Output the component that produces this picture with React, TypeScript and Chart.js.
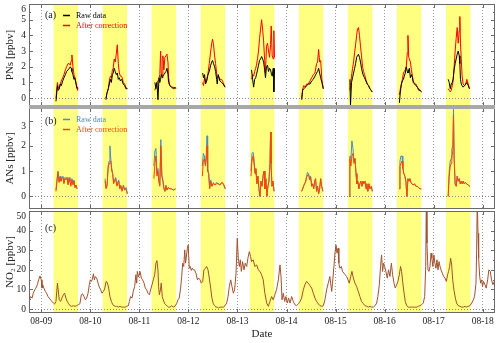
import React, { useEffect, useRef } from 'react';
import { Chart, registerables } from 'chart.js';
Chart.register(...registerables);

const W = 500;
const H = 343;
const X_MIN = -6; // hours relative to 08-09 00:00
const X_MAX = 222;
const FONT = "'Liberation Serif', 'Times New Roman', serif";
const FRAME = '#6a6a6a';

const dayLabels = ['08-09', '08-10', '08-11', '08-12', '08-13', '08-14', '08-15', '08-16', '08-17', '08-18'];
const dayTickHours = [0, 24, 48, 72, 96, 120, 144, 168, 192, 216];
const daytimeDays = [0, 1, 2, 3, 4, 5, 6, 7, 8];
const daytimeStart = 6;
const daytimeEnd = 18;

// PNs: rows [hour of day, raw, after correction], one list per day (08-09 ... 08-17)
const pnDays: number[][][] = [
  [[7.2,-0.2,0.0],[7.9,0.8,1.0],[8.3,0.5,0.7],[8.8,0.6,0.6],[9.3,0.9,0.9],[9.8,0.8,1.1],[10.5,1.1,1.3],[11.1,1.3,1.5],[11.8,1.5,1.8],[12.4,1.7,2.0],[13.1,1.8,2.2],[13.7,1.9,2.2],[14.2,2.0,2.1],[14.7,1.9,2.4],[15.0,1.7,2.75],[15.5,1.5,2.0],[16.0,1.2,1.5],[16.5,1.3,1.2],[17.0,0.9,1.0],[17.5,0.6,0.7],[17.8,0.6,0.5]],
  [[7.65,-0.1,0.0],[8.1,0.3,0.3],[8.8,0.6,0.6],[9.3,0.9,1.1],[9.8,1.2,1.4],[10.3,1.0,1.3],[10.8,1.5,1.8],[11.2,1.6,1.9],[11.7,1.9,2.5],[12.2,1.7,2.3],[12.7,1.5,2.8],[13.2,1.6,3.4],[13.7,1.2,2.2],[14.2,1.3,1.6],[14.7,1.1,1.4],[15.2,1.2,1.4],[15.6,1.1,1.3],[16.1,0.9,1.0],[16.8,0.8,0.9],[17.4,0.6,0.7],[18.1,0.6,0.6]],
  [[7.6,1.0,0.5],[8.1,0.6,0.8],[8.6,1.0,1.0],[9.1,-0.1,1.1],[9.6,1.3,1.2],[10.0,1.0,1.5],[10.4,1.2,3.0],[10.7,1.5,1.6],[11.2,1.3,1.4],[11.5,1.4,2.7],[12.0,1.5,1.8],[12.5,1.6,2.6],[13.0,1.7,2.7],[13.5,1.9,2.8],[14.0,1.5,2.3],[14.3,1.0,1.3],[14.9,0.8,0.8],[15.8,0.7,0.7],[16.6,0.6,0.7],[17.2,0.7,0.6],[17.9,0.6,0.7]],
  [[6.95,1.6,1.0],[7.4,1.3,0.8],[7.9,1.5,1.3],[8.4,0.9,1.0],[8.9,1.1,1.1],[9.6,1.5,1.6],[10.2,1.7,2.2],[10.9,2.1,3.0],[11.4,2.3,3.5],[11.8,2.4,3.75],[12.3,2.2,3.4],[12.8,2.0,2.7],[13.3,1.7,2.2],[13.8,1.2,1.6],[14.1,0.9,1.3],[14.6,1.5,1.4],[15.4,1.1,1.2],[16.2,1.0,1.2],[17.0,0.9,1.0],[17.9,0.7,0.7]],
  [[6.9,1.8,1.2],[7.4,1.2,1.5],[7.9,0.7,1.4],[8.4,1.2,1.7],[8.9,1.3,1.9],[9.3,1.5,2.1],[9.8,1.8,2.5],[10.3,2.1,3.0],[10.8,2.4,3.8],[11.3,2.5,4.4],[11.8,2.65,5.0],[12.3,2.5,4.4],[12.8,2.3,3.6],[13.3,1.8,2.4],[13.7,1.3,1.6],[14.2,2.0,3.3],[14.7,2.1,3.5],[15.2,1.7,3.0],[15.7,1.9,2.6],[16.2,1.8,3.4],[16.5,1.6,4.6],[17.0,1.4,2.7],[17.5,1.9,2.5],[17.8,0.4,4.3],[18.1,1.9,2.6]],
  [[7.4,-0.1,0.0],[7.9,0.5,0.6],[8.5,0.6,0.8],[9.2,0.7,0.7],[9.8,0.8,0.9],[10.7,0.9,0.9],[11.5,0.9,1.1],[12.3,1.1,1.3],[13.1,1.2,1.5],[13.9,1.4,1.6],[14.7,1.6,2.2],[15.2,1.7,2.3],[15.7,1.9,3.1],[16.2,1.6,2.3],[16.7,1.3,2.4],[17.3,1.0,1.2],[18.0,0.6,0.6]],
  [[7.0,1.2,0.5],[7.3,-0.45,0.8],[7.8,1.0,1.4],[8.3,1.3,1.9],[8.8,1.6,2.3],[9.3,1.9,2.9],[9.8,2.2,3.4],[10.3,2.6,4.0],[10.7,2.7,4.4],[11.2,2.8,4.5],[11.7,2.6,4.0],[12.2,2.3,3.3],[12.7,1.9,2.7],[13.2,1.6,2.0],[13.7,1.4,1.7],[14.2,1.3,1.5],[14.8,1.1,1.2],[15.5,0.9,0.9],[16.1,0.8,0.8],[16.8,0.6,0.6],[17.4,0.5,0.5],[17.9,0.4,0.4]],
  [[7.2,-0.3,0.2],[7.7,0.4,0.6],[8.2,0.9,0.9],[8.7,1.1,1.2],[9.2,1.2,1.6],[9.6,1.4,1.7],[10.1,1.6,1.8],[10.6,2.0,2.0],[11.1,1.7,2.9],[11.4,1.6,4.0],[11.8,1.8,2.6],[12.1,1.9,2.5],[12.6,1.3,2.3],[13.1,1.5,1.8],[13.6,1.3,1.4],[14.0,1.0,1.1],[14.7,0.9,0.9],[15.3,0.8,0.9],[16.0,0.7,0.7],[16.7,0.5,0.6],[17.3,0.5,0.5],[18.1,0.4,0.4]],
  [[7.1,1.2,0.6],[7.6,1.0,0.5],[8.1,0.6,0.4],[8.6,0.9,0.5],[9.1,1.0,0.8],[9.5,1.2,1.1],[10.0,1.8,2.0],[10.5,2.2,3.0],[11.0,2.5,3.8],[11.5,2.8,4.5],[12.0,3.0,3.5],[12.5,2.7,4.3],[12.8,2.2,5.2],[13.1,1.2,3.5],[13.5,0.9,2.5],[13.9,0.8,1.4],[14.4,0.7,0.9],[15.1,0.8,0.8],[15.7,0.9,0.9],[16.2,1.0,1.2],[16.9,0.8,0.9],[17.5,0.6,0.6]],
];

// ANs: rows [hour of day, raw, after correction]
const anDays: number[][][] = [
  [[7.2,0.25,0.2],[7.7,0.7,0.6],[8.2,1.0,0.95],[8.7,0.6,0.55],[9.2,0.8,0.75],[9.6,0.65,0.6],[10.1,0.75,0.7],[10.6,0.8,0.75],[11.1,0.55,0.5],[11.6,0.75,0.7],[12.1,0.7,0.65],[12.6,0.75,0.75],[13.1,0.5,0.45],[13.6,0.75,0.7],[14.0,0.6,0.6],[14.5,0.45,0.4],[15.0,0.7,0.65],[15.5,0.5,0.45],[16.0,0.65,0.6],[16.5,0.35,0.35],[17.0,0.45,0.45],[17.5,0.3,0.3]],
  [[7.2,0.7,0.6],[7.7,0.35,0.3],[8.2,0.45,0.4],[8.7,1.2,1.1],[9.2,1.4,1.3],[9.6,2.0,1.35],[10.0,1.5,1.4],[10.5,1.1,1.0],[10.9,0.95,0.9],[11.4,0.55,0.5],[11.9,0.65,0.6],[12.4,0.75,0.7],[13.0,0.45,0.4],[13.4,0.55,0.5],[13.9,0.65,0.6],[14.4,0.3,0.3],[14.9,0.45,0.4],[15.5,0.25,0.2],[16.2,0.45,0.4],[16.8,0.25,0.25],[17.5,0.35,0.3],[18.1,0.1,0.1]],
  [[7.1,1.2,0.7],[7.6,1.8,1.3],[8.1,1.9,1.6],[8.6,0.9,0.8],[9.1,1.1,1.0],[9.5,0.65,0.6],[10.0,0.45,0.4],[10.5,2.25,2.0],[11.0,0.85,0.8],[11.5,0.65,0.6],[12.0,0.35,0.3],[12.5,0.2,0.2],[13.0,0.45,0.4],[13.5,0.25,0.25],[14.1,0.35,0.35],[14.9,0.3,0.3],[15.7,0.3,0.3],[16.6,0.25,0.25],[17.7,0.3,0.3]],
  [[6.8,1.2,0.8],[7.3,1.7,1.4],[7.8,1.6,1.5],[8.3,1.3,1.2],[8.8,1.7,1.5],[9.1,2.4,2.0],[9.4,1.1,1.0],[9.9,0.9,0.9],[10.4,0.35,0.3],[10.9,0.65,0.6],[11.5,0.4,0.4],[12.2,0.55,0.5],[13.0,0.45,0.45],[13.8,0.55,0.5],[14.6,0.5,0.5],[15.4,0.45,0.45],[16.3,0.55,0.55],[17.1,0.5,0.5],[18.0,0.3,0.3]],
  [[6.6,1.0,0.8],[7.1,1.7,1.4],[7.6,1.75,1.6],[8.1,1.5,1.3],[8.6,0.9,0.9],[9.0,1.1,1.1],[9.5,0.5,0.5],[10.0,0.8,0.8],[10.5,0.3,0.3],[11.0,0.0,0.0],[11.5,0.6,0.6],[12.0,0.4,0.4],[12.5,0.8,0.8],[13.0,1.0,1.0],[13.4,0.3,0.3],[13.9,0.7,0.7],[14.4,0.0,0.0],[14.9,0.4,0.4],[15.4,0.6,0.6],[15.9,1.3,1.3],[16.2,2.55,2.55],[16.4,1.3,1.3],[16.9,0.4,0.4],[17.4,0.6,0.6],[17.9,0.2,0.2]],
  [[7.4,0.2,0.2],[7.9,0.3,0.3],[8.4,0.45,0.4],[8.9,0.5,0.5],[9.4,0.6,0.6],[9.8,0.8,0.75],[10.3,0.95,0.85],[10.8,0.9,0.85],[11.3,0.7,0.65],[11.8,0.8,0.75],[12.3,0.4,0.4],[12.8,0.5,0.5],[13.3,0.3,0.3],[13.8,0.6,0.6],[14.2,0.7,0.7],[14.7,0.2,0.2],[15.2,0.4,0.4],[15.7,0.1,0.1],[16.2,0.3,0.3],[16.7,0.7,0.7],[17.2,0.4,0.4],[17.8,0.2,0.2]],
  [[6.7,0.0,0.0],[7.0,1.6,1.5],[7.5,1.5,1.2],[8.0,2.2,1.6],[8.5,1.9,1.7],[9.0,1.4,1.3],[9.5,1.5,1.5],[10.0,0.9,0.9],[10.4,0.5,0.5],[10.9,0.6,0.6],[11.4,0.3,0.3],[11.9,0.5,0.5],[12.4,0.6,0.6],[12.9,0.4,0.4],[13.4,0.6,0.6],[13.9,0.5,0.5],[14.4,0.6,0.6],[14.9,0.3,0.3],[15.3,0.5,0.5],[15.8,0.2,0.2],[16.3,0.5,0.5],[16.8,0.3,0.3],[17.5,0.4,0.4],[18.0,0.2,0.2]],
  [[7.15,0.3,0.3],[7.5,1.4,1.2],[8.0,1.6,1.3],[8.5,1.6,1.4],[8.9,1.2,1.1],[9.4,0.9,0.9],[9.9,0.8,0.8],[10.4,0.6,0.6],[10.9,0.0,0.0],[11.4,0.7,0.7],[11.9,0.6,0.6],[12.4,0.7,0.7],[12.9,0.55,0.55],[13.3,0.5,0.5],[14.0,0.45,0.45],[14.6,0.5,0.5],[15.3,0.4,0.4],[15.9,0.4,0.4],[16.6,0.35,0.35],[17.3,0.3,0.3],[17.9,0.3,0.3]],
  [[7.1,0.0,0.0],[7.6,1.0,0.8],[8.1,1.4,1.2],[8.6,1.5,1.3],[8.9,1.9,1.6],[9.4,2.0,1.8],[9.7,3.45,3.2],[10.0,1.6,1.5],[10.5,0.5,0.5],[11.0,0.4,0.4],[11.5,0.8,0.8],[12.0,0.6,0.6],[12.5,0.7,0.7],[13.0,0.5,0.5],[13.5,0.6,0.6],[13.9,0.5,0.5],[14.4,0.6,0.6],[14.9,0.5,0.5],[15.4,0.55,0.55],[16.1,0.5,0.5],[16.9,0.45,0.45],[17.7,0.4,0.4]],
];

// NO2: rows [hours since 08-09 00:00, ppbv]
const no2Readings: number[][] = [
  [-5.85,4.7],[-5.2,6.4],[-4.5,5.6],[-3.9,8.1],[-3.2,9.8],[-2.6,10.7],[-1.9,12.4],[-1.3,14.9],[-0.6,16.9],[0.0,14.9],[0.35,10.7],[0.7,12.4],[1.3,10.7],[2.0,9.0],[2.6,8.1],[3.3,6.4],[3.9,5.6],[4.6,4.7],[5.2,3.9],[5.9,3.1],[6.5,2.5],[7.2,3.9],[7.9,13.2],[8.3,9.8],[8.8,4.7],[9.5,3.9],[10.1,5.6],[10.8,7.3],[11.4,8.1],[12.1,5.6],[12.7,3.9],[13.4,2.7],[14.1,1.7],[14.9,1.4],[15.7,1.7],[16.5,1.4],[17.3,1.7],[18.1,2.2],[18.9,2.7],[19.6,7.3],[20.2,7.8],[20.9,6.4],[21.6,4.7],[22.2,5.6],[22.9,8.1],[23.5,12.4],
  [24.0,14.9],[24.5,14.1],[25.0,15.3],[25.5,18.0],[26.0,14.9],[26.4,16.6],[27.1,15.8],[27.8,13.2],[28.4,11.2],[29.1,9.8],[29.7,8.1],[30.4,9.0],[31.0,10.2],[31.7,14.1],[32.3,13.6],[33.0,10.7],[33.6,6.4],[34.3,3.9],[35.0,2.2],[35.6,1.7],[36.2,1.4],[36.9,1.4],[37.7,1.0],[38.5,1.4],[39.3,1.0],[40.1,1.0],[41.0,1.0],[41.8,1.4],[42.6,1.7],[43.1,3.9],[43.7,6.4],[44.4,5.6],[45.0,9.0],[45.7,11.5],[46.3,17.5],[46.7,13.2],[47.0,19.2],[47.6,16.3],
  [48.3,19.2],[49.0,15.8],[49.6,14.9],[50.3,13.2],[50.9,10.7],[51.6,9.8],[52.2,8.1],[52.9,7.3],[53.5,9.8],[54.2,12.4],[54.8,14.9],[55.5,17.5],[56.1,23.4],[56.6,24.7],[57.1,20.0],[57.4,11.5],[57.8,7.3],[58.3,9.8],[58.7,13.2],[59.2,6.4],[59.7,4.7],[60.4,2.7],[61.0,2.2],[61.7,1.4],[62.3,1.0],[63.0,1.0],[63.8,1.7],[64.6,1.0],[65.4,1.4],[66.2,2.7],[66.9,4.7],[67.5,5.6],[68.2,10.7],[68.7,16.6],[69.2,23.4],[69.7,21.7],[70.2,30.2],[70.6,23.4],[71.5,31.0],[71.9,32.7],
  [72.4,20.8],[72.9,21.7],[73.4,19.7],[73.9,20.8],[74.4,20.0],[75.0,20.0],[75.7,18.3],[76.4,14.9],[77.0,15.8],[77.7,14.9],[78.3,13.2],[79.0,14.1],[79.6,20.0],[80.3,20.8],[80.9,21.7],[81.6,20.0],[82.2,15.8],[82.9,10.7],[83.5,5.6],[84.2,2.7],[84.8,1.7],[85.5,1.0],[86.1,1.0],[86.8,0.5],[87.4,1.0],[88.3,1.0],[89.1,1.0],[89.9,1.7],[90.7,3.1],[91.4,6.4],[92.0,11.5],[92.7,14.9],[93.3,11.5],[94.0,8.1],[94.6,9.8],[95.3,18.3],[95.9,36.1],
  [96.4,25.9],[96.9,21.7],[97.4,25.1],[97.9,19.2],[98.5,24.2],[99.2,20.0],[99.8,23.4],[100.5,21.7],[101.1,25.9],[101.8,29.3],[102.4,26.8],[102.9,24.2],[103.7,25.1],[104.5,21.7],[105.4,22.5],[106.2,20.0],[107.0,19.2],[107.8,17.5],[108.6,14.9],[109.4,8.1],[110.3,3.1],[111.1,1.4],[111.9,3.9],[112.7,6.4],[113.5,4.7],[114.3,7.3],[115.1,9.8],[116.0,14.9],[116.8,22.5],[117.3,16.6],[117.8,4.7],[118.4,8.1],[119.1,3.9],[119.7,6.4],
  [120.4,3.1],[121.0,5.6],[121.7,3.1],[122.5,6.4],[123.3,3.9],[124.1,2.2],[124.9,1.7],[125.8,2.7],[126.6,3.9],[127.4,5.6],[128.2,9.8],[129.0,12.4],[129.8,14.1],[130.6,13.2],[131.5,11.9],[132.3,10.7],[133.1,8.1],[133.9,5.6],[134.7,3.9],[135.5,2.7],[136.4,1.7],[137.2,1.4],[138.0,1.7],[138.8,4.7],[139.6,9.8],[140.4,13.2],[141.2,16.6],[142.1,9.0],[142.5,13.2],[143.2,21.7],[143.7,28.5],
  [144.2,32.7],[144.7,28.5],[145.2,31.0],[145.6,23.4],[146.1,20.8],[146.8,21.7],[147.4,19.2],[148.1,18.3],[148.7,17.5],[149.4,16.6],[150.1,14.9],[150.7,13.2],[151.4,16.6],[152.0,19.2],[152.7,15.8],[153.5,13.2],[154.3,11.5],[155.1,9.0],[155.9,6.4],[156.7,3.9],[157.6,2.7],[158.4,1.7],[159.2,1.4],[160.0,1.0],[160.8,1.4],[161.6,1.0],[162.5,1.0],[163.3,1.7],[164.1,3.1],[164.7,6.4],[165.4,12.4],[166.0,21.7],[166.5,27.6],[167.0,19.2],[167.5,23.4],
  [168.0,21.7],[168.6,19.2],[169.3,15.8],[169.9,20.0],[170.6,16.6],[171.3,23.4],[171.9,17.5],[172.6,13.2],[173.2,10.7],[173.9,12.4],[174.5,14.1],[175.2,17.5],[175.8,21.7],[176.3,19.2],[176.8,14.1],[177.5,8.1],[178.1,3.9],[178.8,1.7],[179.6,1.0],[180.4,1.0],[181.2,1.0],[182.0,1.0],[182.8,1.0],[183.7,1.0],[184.5,1.4],[185.3,1.7],[186.1,2.2],[186.9,3.1],[187.6,6.4],[188.1,21.7],[188.4,55.0],[188.7,33.6],[189.2,20.0],[189.7,19.2],[190.2,21.7],[190.7,28.5],[191.1,25.9],[191.6,21.7],
  [192.1,27.6],[192.6,23.4],[193.1,20.8],[193.6,25.1],[194.1,20.0],[194.6,24.2],[195.1,21.7],[195.6,20.0],[196.2,18.3],[196.9,16.6],[197.5,15.8],[198.2,14.1],[198.8,17.5],[199.3,19.2],[199.8,21.7],[200.3,25.9],[200.8,22.5],[201.3,14.9],[201.9,9.8],[202.6,5.6],[203.2,3.1],[204.0,1.7],[204.9,1.4],[205.7,1.0],[206.5,1.0],[207.3,1.4],[208.1,1.0],[208.9,1.4],[209.7,1.7],[210.6,3.1],[211.4,4.7],[212.0,6.4],[212.7,13.2],[213.0,28.5],[213.3,55.0],[213.7,38.6],[214.0,25.9],[214.5,16.6],[215.0,13.2],[215.5,14.9],
  [215.9,11.5],[216.4,14.1],[217.1,12.4],[217.7,10.7],[218.4,14.9],[219.0,20.0],[219.7,19.2],[220.3,14.9],[221.0,12.4],[222.0,14.9],
];

const pnTicks = [0, 1, 2, 3, 4, 5, 6];
const anTicks = [0, 1, 2, 3];
const no2Ticks = [0, 10, 20, 30, 40, 50];

function daySeries(days: number[][][], col: number) {
  const out: { x: number; y: number | null }[] = [];
  days.forEach((rows, d) => {
    rows.forEach((r) => out.push({ x: d * 24 + r[0], y: r[col] }));
    out.push({ x: d * 24 + 21, y: null });
  });
  return out;
}

type Spec = {
  top: number;
  bottom: number;
  yMin: number;
  yMax: number;
  yTicks: number[];
  yMinor: number;
  title: string;
  showX: boolean;
  datasets: any[];
  tag: string;
  tagDy: number;
  legend: { text: string; color: string; dy: number }[];
  separatorAbove: boolean;
};

function makeChart(canvas: HTMLCanvasElement, spec: Spec) {
  const top = spec.yTicks[spec.yTicks.length - 1];
  const decor = {
    id: 'decor',
    beforeDraw(chart: any) {
      const { ctx, chartArea: a, scales } = chart;
      const xs = scales.x;
      ctx.save();
      ctx.fillStyle = '#ffff80';
      for (const d of daytimeDays) {
        const x1 = xs.getPixelForValue(d * 24 + daytimeStart);
        const x2 = xs.getPixelForValue(d * 24 + daytimeEnd);
        ctx.fillRect(x1, a.top, x2 - x1, a.bottom - a.top);
      }
      ctx.restore();
    },
    afterDraw(chart: any) {
      const { ctx, chartArea: a, scales } = chart;
      const xs = scales.x;
      const ys = scales.y;
      ctx.save();
      ctx.strokeStyle = FRAME;
      ctx.lineWidth = 1;
      ctx.beginPath();
      for (const v of spec.yTicks) {
        const y = Math.round(ys.getPixelForValue(v)) + 0.5;
        ctx.moveTo(a.left, y); ctx.lineTo(a.left + 4, y);
        ctx.moveTo(a.right, y); ctx.lineTo(a.right - 4, y);
      }
      for (let v = spec.yMinor; v < spec.yMax; v += spec.yMinor * 2) {
        const y = Math.round(ys.getPixelForValue(v)) + 0.5;
        ctx.moveTo(a.left, y); ctx.lineTo(a.left + 2, y);
        ctx.moveTo(a.right, y); ctx.lineTo(a.right - 2, y);
      }
      for (const h of dayTickHours) {
        const x = Math.round(xs.getPixelForValue(h)) + 0.5;
        ctx.moveTo(x, a.top); ctx.lineTo(x, a.top + 4);
        ctx.moveTo(x, a.bottom); ctx.lineTo(x, a.bottom - 4);
      }
      ctx.stroke();
      ctx.strokeRect(a.left + 0.5, a.top + 0.5, a.right - a.left - 1, a.bottom - a.top - 1);
      if (spec.separatorAbove) {
        ctx.fillStyle = '#a8a8a8';
        ctx.fillRect(a.left, a.top - 3, a.right - a.left, 4);
      }
      ctx.textAlign = 'left';
      ctx.textBaseline = 'middle';
      ctx.fillStyle = '#222';
      ctx.font = `10px ${FONT}`;
      ctx.fillText(spec.tag, 45, a.top + spec.tagDy);
      for (const item of spec.legend) {
        const y = Math.round(a.top + item.dy) + 0.5;
        ctx.strokeStyle = item.color;
        ctx.lineWidth = 1.5;
        ctx.beginPath();
        ctx.moveTo(63, y); ctx.lineTo(70, y);
        ctx.stroke();
        ctx.fillStyle = item.color;
        ctx.font = `8px ${FONT}`;
        ctx.fillText(item.text, 76, y);
      }
      ctx.restore();
    },
  };

  return new Chart(canvas, {
    type: 'line',
    data: { datasets: spec.datasets },
    options: {
      responsive: false,
      animation: false,
      devicePixelRatio: 1,
      events: [],
      layout: {
        padding: { left: 0, right: W - 495, top: spec.top, bottom: spec.showX ? 0 : H - spec.bottom },
      },
      plugins: { legend: { display: false }, tooltip: { enabled: false } },
      elements: { point: { radius: 0 }, line: { tension: 0 } },
      scales: {
        x: {
          type: 'linear',
          min: X_MIN,
          max: X_MAX,
          afterBuildTicks: (s: any) => { s.ticks = dayTickHours.map((v) => ({ value: v })); },
          afterFit: (s: any) => {
            s.height = spec.showX ? H - spec.bottom : 0;
            s.paddingLeft = 0; s.paddingRight = 0;
          },
          grid: { color: '#9a9a9a', lineWidth: 1, drawTicks: false },
          border: { display: false, dash: [1, 2] },
          ticks: {
            display: spec.showX,
            autoSkip: false,
            maxRotation: 0,
            padding: 3,
            color: '#222',
            font: { family: FONT, size: 9.5 },
            callback: (v: any) => dayLabels[Math.round(Number(v) / 24)] ?? '',
          },
          title: {
            display: spec.showX,
            text: 'Date',
            color: '#222',
            font: { family: FONT, size: 11 },
            padding: { top: 0, bottom: 2 },
          },
        },
        y: {
          type: 'linear',
          min: spec.yMin,
          max: spec.yMax,
          afterBuildTicks: (s: any) => { s.ticks = spec.yTicks.map((v) => ({ value: v })); },
          afterFit: (s: any) => { s.width = 29; s.paddingTop = 0; s.paddingBottom = 0; },
          grid: {
            drawTicks: false,
            lineWidth: 1,
            color: (c: any) => (c.tick && c.tick.value === 0 ? '#8a8a8a' : 'rgba(0,0,0,0)'),
          },
          border: { display: false, dash: [1, 2] },
          ticks: {
            autoSkip: false,
            padding: 3,
            color: '#222',
            font: { family: FONT, size: 9.5 },
            callback: (v: any) => (Number(v) === top ? ['', String(v)] : String(v)),
          },
          title: {
            display: true,
            text: spec.title,
            color: '#222',
            font: { family: FONT, size: 11 },
            padding: { top: 4, bottom: 0 },
          },
        },
      },
    },
    plugins: [decor],
  } as any);
}

const lineDs = (label: string, data: any[], color: string, width = 1) => ({
  label,
  data,
  borderColor: color,
  backgroundColor: color,
  borderWidth: width,
  pointRadius: 0,
  fill: false,
  spanGaps: false,
});

export default function App() {
  const refA = useRef<HTMLCanvasElement>(null);
  const refB = useRef<HTMLCanvasElement>(null);
  const refC = useRef<HTMLCanvasElement>(null);

  useEffect(() => {
    const charts: Chart[] = [];
    if (refA.current) {
      charts.push(makeChart(refA.current, {
        top: 4, bottom: 106, yMin: -0.5, yMax: 6, yTicks: pnTicks, yMinor: 0.5,
        title: 'PNs [ppbv]', showX: false, separatorAbove: false,
        tag: '(a)', tagDy: 11,
        legend: [
          { text: 'Raw data', color: '#000000', dy: 11 },
          { text: 'After correction', color: '#ff0000', dy: 20.5 },
        ],
        datasets: [
          lineDs('Raw data', daySeries(pnDays, 1), '#000000'),
          lineDs('After correction', daySeries(pnDays, 2), '#ff0000'),
        ],
      }));
    }
    if (refB.current) {
      charts.push(makeChart(refB.current, {
        top: 108, bottom: 209, yMin: -0.5, yMax: 3.5, yTicks: anTicks, yMinor: 0.5,
        title: 'ANs [ppbv]', showX: false, separatorAbove: true,
        tag: '(b)', tagDy: 13.7,
        legend: [
          { text: 'Raw data', color: '#4a8cc0', dy: 11.3 },
          { text: 'After correction', color: '#ff4500', dy: 21.3 },
        ],
        datasets: [
          lineDs('After correction', daySeries(anDays, 2), '#ff4500'),
          lineDs('Raw data', daySeries(anDays, 1), '#4a8cc0'),
        ],
      }));
    }
    if (refC.current) {
      charts.push(makeChart(refC.current, {
        top: 211, bottom: 313, yMin: -2, yMax: 50, yTicks: no2Ticks, yMinor: 5,
        title: 'NO\u2082 [ppbv]', showX: true, separatorAbove: false,
        tag: '(c)', tagDy: 17,
        legend: [],
        datasets: [
          lineDs('NO2', no2Readings.map((r) => ({ x: r[0], y: r[1] })), '#a0522d'),
        ],
      }));
    }
    return () => charts.forEach((c) => c.destroy());
  }, []);

  const style: React.CSSProperties = { position: 'absolute', left: 0, top: 0 };
  return (
    <div style={{ position: 'fixed', left: 0, top: 0, width: W, height: H, background: '#fff' }}>
      <canvas ref={refA} width={W} height={H} style={style} />
      <canvas ref={refB} width={W} height={H} style={style} />
      <canvas ref={refC} width={W} height={H} style={style} />
    </div>
  );
}
